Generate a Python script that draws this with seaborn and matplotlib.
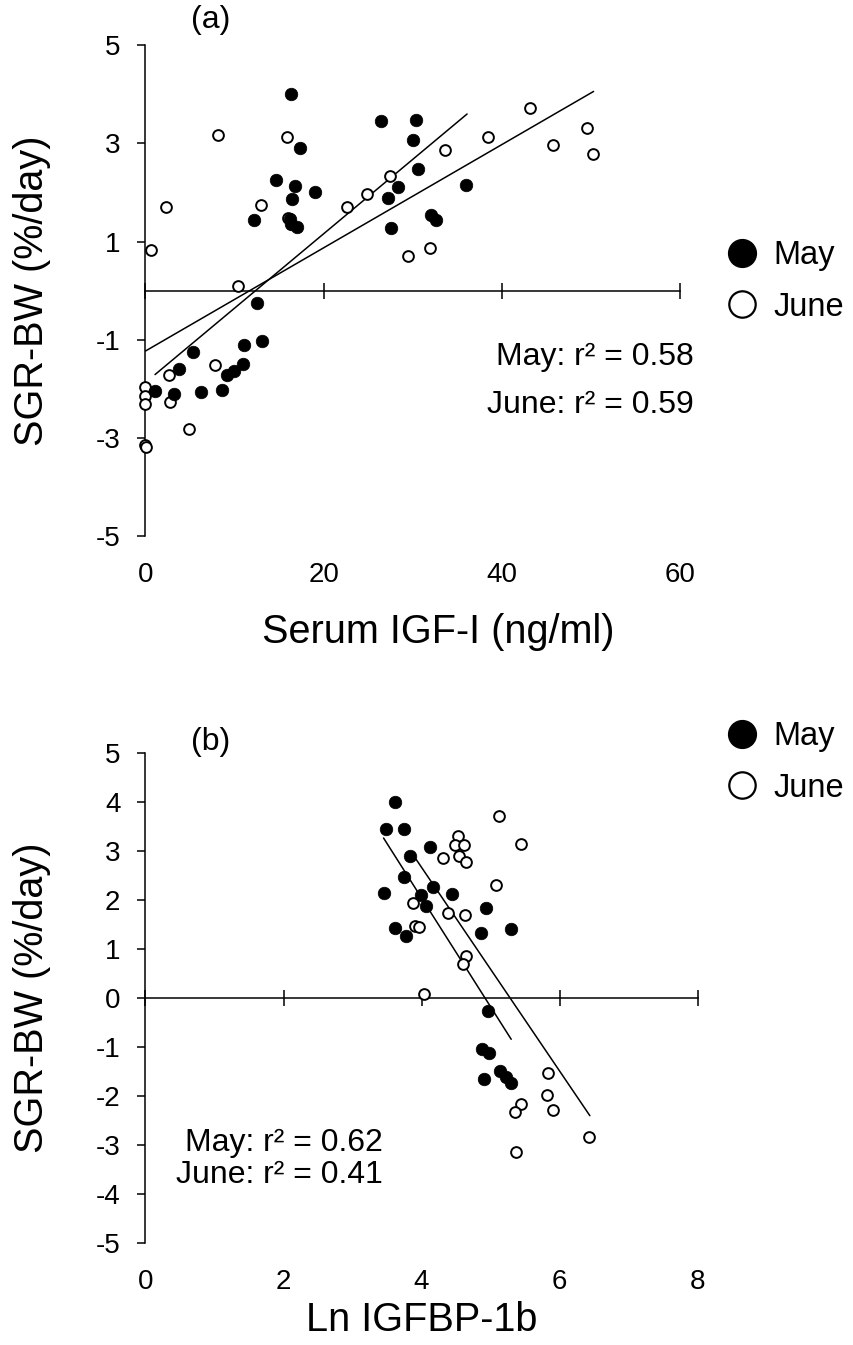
import matplotlib
matplotlib.use("Agg")
import matplotlib.pyplot as plt
import seaborn as sns
from matplotlib.lines import Line2D

# ---------------- Panel (a): SGR-BW vs serum IGF-I ----------------
a_may_x = [16.35, 26.4, 30.4, 30.06, 17.3, 30.6, 14.7, 16.8, 19.05, 28.4, 16.4, 27.2,
           12.2, 16.2, 16.3, 17.0, 27.6, 36.0, 32.0, 32.6,
           12.5, 13.05, 11.1, 5.34, 11.0, 9.98, 9.12, 3.73, 1.07, 3.17, 6.24, 8.63]
a_may_y = [4.00, 3.46, 3.48, 3.08, 2.91, 2.48, 2.26, 2.14, 2.01, 2.12, 1.87, 1.89,
           1.43, 1.45, 1.35, 1.30, 1.28, 2.16, 1.55, 1.44,
           -0.25, -1.02, -1.11, -1.26, -1.49, -1.64, -1.72, -1.60, -2.04, -2.10, -2.06, -2.02]
a_june_x = [8.1, 15.9, 2.27, 13.0, 22.6, 24.9, 27.4, 0.65, 29.5, 31.9, 10.4, 33.65,
            38.5, 43.2, 45.7, 49.6, 50.2, 7.8, 2.64, 2.75, 4.85, 0.0, 0.0, 0.0, 0.0, 0.1, 16.0]
a_june_y = [3.17, 3.13, 1.70, 1.74, 1.71, 1.96, 2.34, 0.83, 0.70, 0.87, 0.10, 2.87,
            3.13, 3.72, 2.96, 3.32, 2.79, -1.51, -1.71, -2.27, -2.82, -1.96, -2.15, -2.32, -3.15, -3.18, 1.48]
a_may_fit_x = [1.07, 36.1]
a_may_fit_y = [-1.71, 3.60]
a_june_fit_x = [0.0, 50.3]
a_june_fit_y = [-1.23, 4.06]
a_xticks = [0, 20, 40, 60]
a_yticks = [-5, -3, -1, 1, 3, 5]
a_r2 = ["May: r\u00b2 = 0.58", "June: r\u00b2 = 0.59"]

# ---------------- Panel (b): SGR-BW vs Ln IGFBP-1b ----------------
b_may_x = [3.62, 3.49, 3.74, 4.12, 3.83, 3.74, 4.16, 3.45, 3.99, 4.44, 4.06, 4.94,
           3.62, 3.78, 4.86, 5.29, 4.97, 4.88, 4.98, 5.14, 5.22, 5.29, 4.91]
b_may_y = [4.00, 3.45, 3.46, 3.08, 2.90, 2.47, 2.26, 2.15, 2.11, 2.13, 1.88, 1.85,
           1.44, 1.27, 1.34, 1.41, -0.27, -1.04, -1.12, -1.49, -1.62, -1.74, -1.65]
b_june_x = [5.13, 5.44, 4.53, 4.49, 4.61, 4.55, 4.64, 4.31, 5.08, 3.87, 4.38, 4.63,
            3.91, 3.96, 4.64, 4.60, 4.04, 5.83, 5.82, 5.90, 5.44, 5.36, 5.37, 6.43]
b_june_y = [3.71, 3.15, 3.32, 3.12, 3.12, 2.90, 2.78, 2.86, 2.32, 1.94, 1.73, 1.70,
            1.47, 1.45, 0.87, 0.69, 0.08, -1.53, -1.98, -2.28, -2.16, -2.32, -3.14, -2.83]
b_may_fit_x = [3.45, 5.30]
b_may_fit_y = [3.27, -0.84]
b_june_fit_x = [3.90, 6.44]
b_june_fit_y = [2.88, -2.40]
b_xticks = [0, 2, 4, 6, 8]
b_yticks = [-5, -4, -3, -2, -1, 0, 1, 2, 3, 4, 5]
b_r2 = ["May: r\u00b2 = 0.62", "June: r\u00b2 = 0.41"]

series_labels = ["May", "June"]
ylabel = "SGR-BW (%/day)"

sns.set_theme(style="white")
plt.rcParams["font.family"] = ["Liberation Sans", "DejaVu Sans"]
for k in ["text.color", "axes.labelcolor", "xtick.color", "ytick.color", "axes.edgecolor"]:
    plt.rcParams[k] = "black"

W, H = 854, 1345
fig = plt.figure(figsize=(W / 100, H / 100), dpi=100)

LW = 1.1
TICK_FS = 20
LABEL_FS = 28.5


def px_rect(l, r, t, b):
    return [l / W, 1 - b / H, (r - l) / W, (b - t) / H]


def panel(rect, may_x, may_y, june_x, june_y, mfx, mfy, jfx, jfy,
          xticks, yticks, xlabel, r2, r2_pos, tag, tag_pos, xlab_pos, ylab_pos, leg_y):
    ax = fig.add_axes(rect)
    ax.set_facecolor("white")
    sns.lineplot(x=mfx, y=mfy, ax=ax, color="black", linewidth=LW, zorder=2)
    sns.lineplot(x=jfx, y=jfy, ax=ax, color="black", linewidth=LW, zorder=2)
    sns.scatterplot(x=june_x, y=june_y, ax=ax, color="white", edgecolor="black",
                    linewidth=1.4, s=60, clip_on=False, zorder=3)
    sns.scatterplot(x=may_x, y=may_y, ax=ax, color="black", edgecolor="black",
                    linewidth=0.5, s=82, clip_on=False, zorder=4)
    ax.set_xlim(xticks[0], xticks[-1])
    ax.set_ylim(yticks[0], yticks[-1])
    ax.set_yticks(yticks)
    ax.set_yticklabels([str(v) for v in yticks])
    ax.set_xticks(xticks)
    for s in ["top", "right"]:
        ax.spines[s].set_visible(False)
    ax.spines["left"].set_linewidth(LW)
    ax.spines["left"].set_color("black")
    ax.spines["bottom"].set_position(("data", 0))
    ax.spines["bottom"].set_linewidth(LW)
    ax.spines["bottom"].set_color("black")
    ax.tick_params(axis="y", direction="out", length=6, width=LW, color="black",
                   labelsize=TICK_FS, labelcolor="black", pad=12, left=True)
    ax.tick_params(axis="x", direction="inout", length=12, width=LW, color="black",
                   labelbottom=False, bottom=True)
    # tick labels at the bottom edge
    sec = ax.secondary_xaxis("bottom")
    sec.set_xticks(xticks)
    sec.set_xticklabels([str(v) for v in xticks])
    sec.tick_params(length=0, labelsize=TICK_FS, labelcolor="black", pad=19)
    sec.spines["bottom"].set_visible(False)
    ax.set_xlabel(xlabel, fontsize=LABEL_FS, color="black")
    ax.xaxis.set_label_coords(*xlab_pos)
    ax.xaxis.label.set_va("center")
    ax.set_ylabel(ylabel, fontsize=LABEL_FS, color="black")
    ax.yaxis.set_label_coords(*ylab_pos)
    ax.yaxis.label.set_va("center")
    ax.text(*r2_pos[0], r2[0], ha="right", va="center", fontsize=23, color="black")
    ax.text(*r2_pos[1], r2[1], ha="right", va="center", fontsize=23, color="black")
    ax.text(*tag_pos, tag, transform=ax.transAxes, ha="center", va="center",
            fontsize=23, color="black")
    handles = [Line2D([], [], linestyle="none", marker="o", markersize=20,
                      markerfacecolor="black", markeredgecolor="black"),
               Line2D([], [], linestyle="none", marker="o", markersize=19,
                      markerfacecolor="white", markeredgecolor="black", markeredgewidth=1.6)]
    leg = ax.legend(handles, series_labels, loc="center left",
                    bbox_to_anchor=(726 / W, 1 - leg_y / H), bbox_transform=fig.transFigure,
                    frameon=False, fontsize=23.5, handlelength=1.0, handletextpad=0.45,
                    labelspacing=0.62, borderpad=0, borderaxespad=0)
    for t in leg.get_texts():
        t.set_color("black")
    return ax


panel(px_rect(145.5, 680, 45.3, 536), a_may_x, a_may_y, a_june_x, a_june_y,
      a_may_fit_x, a_may_fit_y, a_june_fit_x, a_june_fit_y,
      a_xticks, a_yticks, "Serum IGF-I (ng/ml)", a_r2,
      [(61.5, -1.36), (61.5, -2.34)], "(a)", (0.1225, 1.0516),
      (0.547, -0.1956), (-0.2124, 0.5), 281.5)

panel(px_rect(145.5, 697.5, 753.3, 1243), b_may_x, b_may_y, b_june_x, b_june_y,
      b_may_fit_x, b_may_fit_y, b_june_fit_x, b_june_fit_y,
      b_xticks, b_yticks, "Ln IGFBP-1b", b_r2,
      [(3.44, -2.95), (3.44, -3.62)], "(b)", (0.1187, 1.023),
      (0.5, -0.157), (-0.2056, 0.5), 762.5)

fig.savefig("out.png", dpi=100, facecolor="white")
